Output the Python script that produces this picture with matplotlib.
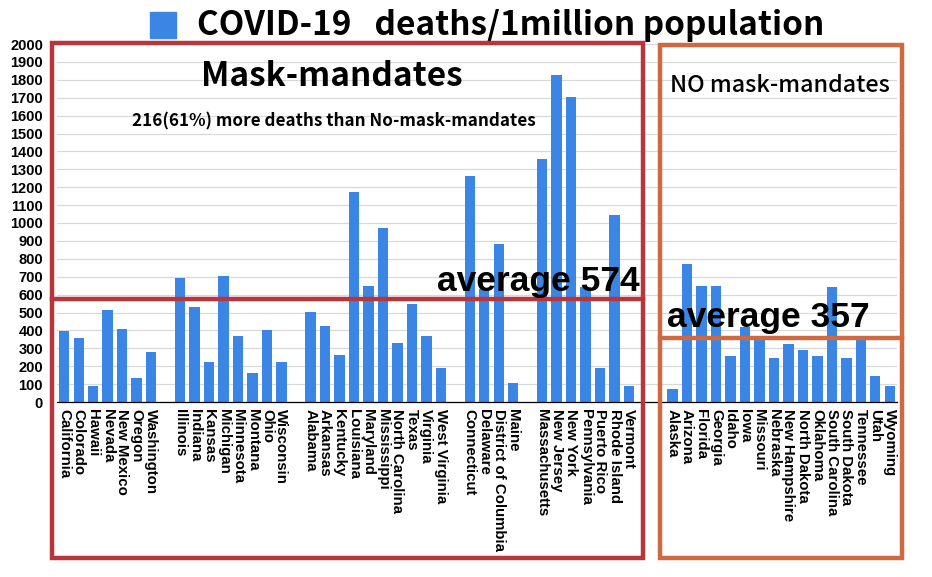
import matplotlib
matplotlib.use("Agg")
import matplotlib.pyplot as plt
import matplotlib.transforms as mtransforms
from matplotlib.patches import Rectangle
import numpy as np

# states with mask mandates, in the groups shown (one empty slot between groups)
mask_groups = [
    ["California", "Colorado", "Hawaii", "Nevada", "New Mexico", "Oregon", "Washington"],
    ["Illinois", "Indiana", "Kansas", "Michigan", "Minnesota", "Montana", "Ohio", "Wisconsin"],
    ["Alabama", "Arkansas", "Kentucky", "Louisiana", "Maryland", "Mississippi",
     "North Carolina", "Texas", "Virginia", "West Virginia"],
    ["Connecticut", "Delaware", "District of Columbia", "Maine"],
    ["Massachusetts", "New Jersey", "New York", "Pennsylvania", "Puerto Rico",
     "Rhode Island", "Vermont"],
]
mask_values = [
    [395, 355, 92, 512, 410, 132, 280],
    [695, 530, 222, 705, 366, 160, 405, 222],
    [505, 422, 262, 1172, 648, 970, 331, 545, 368, 190],
    [1262, 630, 882, 105],
    [1357, 1828, 1705, 640, 190, 1045, 92],
]
nomask_states = ["Alaska", "Arizona", "Florida", "Georgia", "Idaho", "Iowa", "Missouri",
                 "Nebraska", "New Hampshire", "North Dakota", "Oklahoma", "South Carolina",
                 "South Dakota", "Tennessee", "Utah", "Wyoming"]
nomask_values = [72, 770, 648, 648, 257, 421, 356, 246, 322, 290, 257, 641, 246, 346, 145, 90]

mask_avg = 574
nomask_avg = 357

W, H = 932, 577
fig = plt.figure(figsize=(W / 100, H / 100), dpi=100)
fig.patch.set_facecolor("white")


def fx(x):
    return x / W


def fy(y):
    return 1 - y / H


ax = fig.add_axes([fx(57), fy(402), fx(897) - fx(57), fy(44) - fy(402)])

bar_color = "#3b86e4"
labels, values, pos = [], [], []
slot = 0
for names, vals in zip(mask_groups, mask_values):
    for n, v in zip(names, vals):
        labels.append(n)
        values.append(v)
        pos.append(slot)
        slot += 1
    slot += 1
slot += 1
for n, v in zip(nomask_states, nomask_values):
    labels.append(n)
    values.append(v)
    pos.append(slot)
    slot += 1

ax.bar(pos, values, width=0.72, color=bar_color, zorder=2)
ax.set_xlim(-0.5, slot - 0.5)
ax.set_ylim(0, 2000)
ax.set_yticks(np.arange(0, 2001, 100))
ax.yaxis.grid(True, color="#d9d9d9", lw=0.9, zorder=0)
for s in ["top", "right", "left"]:
    ax.spines[s].set_visible(False)
ax.spines["bottom"].set_color("black")
ax.spines["bottom"].set_linewidth(0.9)
ax.tick_params(axis="y", length=0, pad=10, labelsize=10.5)
for t in ax.get_yticklabels():
    t.set_fontweight("bold")
    t.set_family("Liberation Sans")
ax.set_xticks(pos)
ax.set_xticklabels(labels, rotation=270, fontsize=10.8, fontweight="bold",
                   family="Liberation Sans", va="top", ha="center")
ax.tick_params(axis="x", length=0, pad=5)

# title styled like a legend entry
fig.add_artist(Rectangle((fx(150), fy(38)), fx(26), fy(12) - fy(38),
                         transform=fig.transFigure, color=bar_color))
fig.text(fx(197), fy(25), "COVID-19   deaths/1million population", fontsize=24,
         fontweight="bold", family="Noto Sans CJK JP", va="center", ha="left")

red = "#b8353b"
orange = "#d0693f"
lw = 3.2
fig.add_artist(Rectangle((fx(52), fy(558)), fx(643) - fx(52), fy(43) - fy(558),
                         transform=fig.transFigure, fill=False, ec=red, lw=lw, zorder=5))
fig.add_artist(Rectangle((fx(660), fy(558)), fx(902) - fx(660), fy(45) - fy(558),
                         transform=fig.transFigure, fill=False, ec=orange, lw=lw, zorder=5))

# average lines, drawn at the data height
blend = mtransforms.blended_transform_factory(fig.transFigure, ax.transData)
ax.plot([fx(52), fx(643)], [mask_avg, mask_avg], transform=blend, color=red, lw=lw,
        clip_on=False, zorder=5)
ax.plot([fx(660), fx(902)], [nomask_avg, nomask_avg], transform=blend, color=orange, lw=lw,
        clip_on=False, zorder=5)

fig.text(fx(332), fy(77), "Mask-mandates", fontsize=24, fontweight="bold",
         family="Noto Sans CJK JP", ha="center", va="center")
fig.text(fx(334), fy(121), "216(61%) more deaths than No-mask-mandates", fontsize=12.3,
         fontweight="bold", family="Noto Sans CJK JP", ha="center", va="center")
fig.text(fx(780), fy(85), "NO mask-mandates", fontsize=16.8, family="Noto Sans CJK JP",
         fontweight="medium", ha="center", va="center")
fig.text(fx(640), fy(282), "average 574", fontsize=25.5, fontweight="bold",
         family="Liberation Sans", ha="right", va="center", zorder=6)
fig.text(fx(667), fy(318), "average 357", fontsize=25.5, fontweight="bold",
         family="Liberation Sans", ha="left", va="center", zorder=6)

fig.savefig("out.png", dpi=100, facecolor="white")
